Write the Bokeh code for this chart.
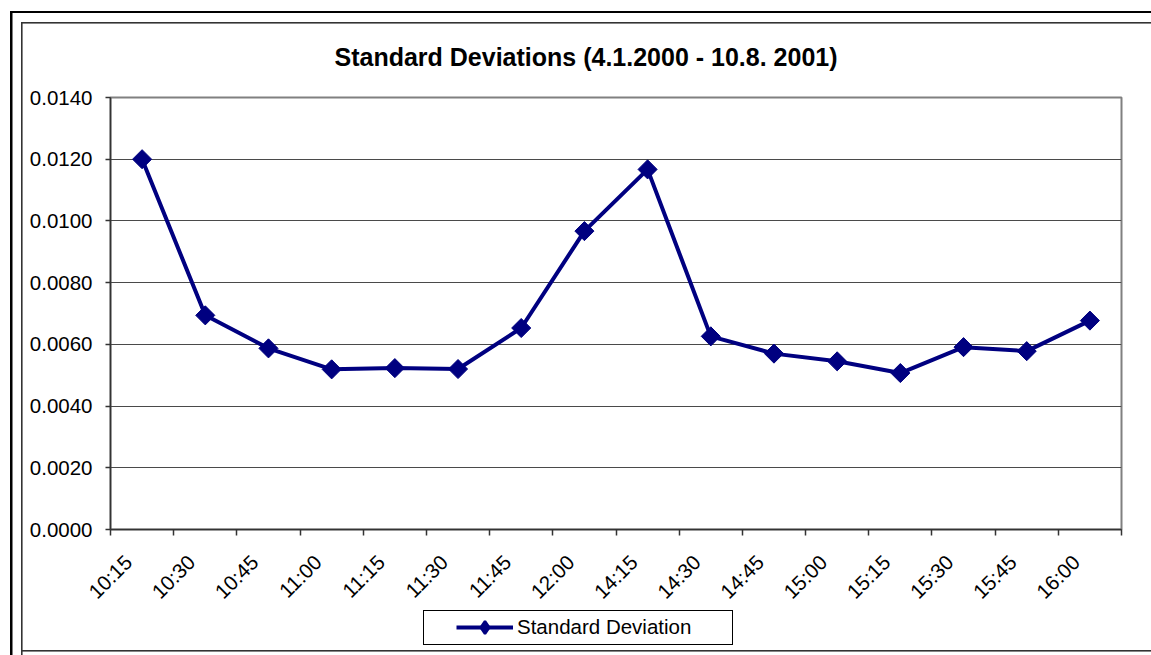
from math import pi
import numpy as np
from bokeh.plotting import figure
from bokeh.layouts import column
from bokeh.models import (FixedTicker, Legend, LegendItem, NumeralTickFormatter, Range1d)
from bokeh.embed import file_html
from bokeh.resources import INLINE

# ---- data -------------------------------------------------------------
times = ["10:15", "10:30", "10:45", "11:00", "11:15", "11:30", "11:45", "12:00",
         "14:15", "14:30", "14:45", "15:00", "15:15", "15:30", "15:45", "16:00"]
std_dev = [0.01200, 0.00694, 0.00587, 0.00519, 0.00523, 0.00520, 0.00653, 0.00967,
           0.01167, 0.00626, 0.00570, 0.00545, 0.00507, 0.00591, 0.00578, 0.00677]
y_ticks = [0.0, 0.002, 0.004, 0.006, 0.008, 0.010, 0.012, 0.014]
title_text = "Standard Deviations (4.1.2000 - 10.8. 2001)"
series_name = "Standard Deviation"

FONT = "Liberation Sans"
NAVY = "#000080"
LABEL_SHIFT = -0.22   # rotated labels sit slightly left of the category centre

n = len(times)
xs = [i + 0.5 for i in range(n)]
label_pos = [x + LABEL_SHIFT for x in xs]

# decorative chart frame (outer + inner border) and legend box, drawn as CSS
# background layers behind the transparent canvas border areas
def seg(x, y, w, h, c):
    return f"linear-gradient({c},{c}) {x}px {y}px / {w}px {h}px no-repeat"

layers = [
    seg(10, 11.3, 2.5, 700, "#000"),       # outer left
    seg(10, 11.3, 1300, 2.2, "#000"),      # outer top
    seg(21.3, 22.3, 1.6, 700, "#333"),     # inner left
    seg(21.3, 22.3, 1300, 1.6, "#333"),    # inner top
    seg(21.3, 650, 1300, 1.6, "#333"),     # inner bottom
    seg(423, 610, 310, 1, "#000"),         # legend box top
    seg(423, 644, 310, 1, "#000"),         # legend box bottom
    seg(423, 610, 1, 35, "#000"),          # legend box left
    seg(732, 610, 1, 35, "#000"),          # legend box right
]
bg = ", ".join(layers) + ", white"

MAIN_H = 614
p = figure(width=1151, height=MAIN_H, output_backend="svg", toolbar_location=None,
           x_range=Range1d(0, n), y_range=Range1d(y_ticks[0], y_ticks[-1]),
           min_border_left=110, min_border_right=30, min_border_top=97,
           min_border_bottom=MAIN_H - 529)
p.background_fill_color = "white"
p.border_fill_alpha = 0
p.outline_line_color = "#808080"
p.outline_line_width = 2

# title
p.title.text = title_text
p.title.align = "left"
p.title.offset = 224
p.title.standoff = 53
p.title.text_font = FONT
p.title.text_font_size = "25px"
p.title.text_font_style = "bold"
p.title.text_color = "black"

# axes
xa = p.xaxis[0]
xa.ticker = FixedTicker(ticks=label_pos, minor_ticks=list(range(n + 1)))
xa.major_label_overrides = {x: t for x, t in zip(label_pos, times)}
xa.major_label_orientation = pi / 4
xa.major_tick_out = 0
xa.major_tick_in = 0
xa.minor_tick_out = 6
xa.minor_tick_in = 0
xa.minor_tick_line_color = "#333333"
xa.minor_tick_line_width = 1.5
xa.axis_line_color = "#333333"
xa.axis_line_width = 1.5
xa.major_label_standoff = 23
xa.major_label_text_font = FONT
xa.major_label_text_font_size = "20.5px"
xa.major_label_text_color = "black"

ya = p.yaxis[0]
ya.ticker = FixedTicker(ticks=y_ticks, minor_ticks=[])
ya.formatter = NumeralTickFormatter(format="0.0000")
ya.major_tick_out = 5
ya.major_tick_in = 0
ya.major_tick_line_color = "#333333"
ya.major_tick_line_width = 1.5
ya.axis_line_color = "#333333"
ya.axis_line_width = 1.5
ya.major_label_standoff = 13
ya.major_label_text_font = FONT
ya.major_label_text_font_size = "20.5px"
ya.major_label_text_color = "black"

p.xgrid.visible = False
p.ygrid.ticker = FixedTicker(ticks=y_ticks)
p.ygrid.grid_line_color = "#4a4a4a"
p.ygrid.grid_line_width = 1

# series
p.line(xs, std_dev, line_color=NAVY, line_width=4)
p.scatter(xs, std_dev, marker="square", angle=pi / 4, size=13.5,
          fill_color=NAVY, line_color=NAVY)

# ---- legend strip (a second, frame-only figure below the chart) --------
# (the column aligns its frame with the chart frame: x offsets are frame-relative)
LEG_H = 655 - MAIN_H
pl = figure(width=1151, height=LEG_H, output_backend="svg", toolbar_location=None,
            x_axis_type=None, y_axis_type=None, min_border=0,
            x_range=Range1d(0, 1), y_range=Range1d(0, 1))
pl.background_fill_alpha = 0
pl.border_fill_alpha = 0
pl.outline_line_color = None
pl.grid.visible = False
nothing = np.array([np.nan])   # key renderers carry no data, they only style the key
key_line = pl.line(x=nothing, y=nothing, line_color=NAVY, line_width=4)
key_mark = pl.scatter(x=nothing, y=nothing, marker="diamond", fill_color=NAVY,
                      line_color=NAVY, line_width=2.5)
legend = Legend(items=[LegendItem(label=series_name, renderers=[key_line, key_mark])],
                location=(344, 10), orientation="horizontal",
                glyph_width=57, glyph_height=32,
                label_standoff=4, padding=2, margin=0, spacing=0,
                label_text_font=FONT, label_text_font_size="20.5px",
                label_text_color="black",
                border_line_alpha=0, background_fill_alpha=0)
pl.add_layout(legend)

layout = column(p, pl, spacing=0, styles={"background": bg})

open("out.html", "w").write(file_html(layout, INLINE))
